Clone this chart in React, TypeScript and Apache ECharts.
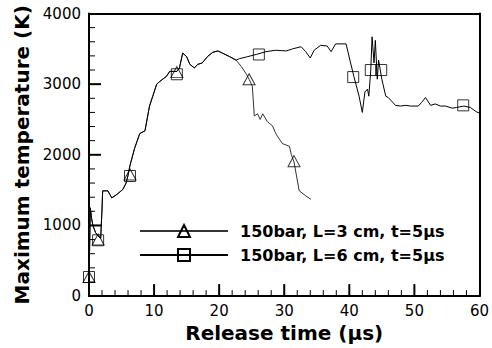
import React, { useEffect, useRef } from "react";
import * as echarts from "echarts";

// Shared rising part of both curves (x in µs, y in K)
const sharedX = [0, 0.1, 0.2, 0.4, 0.6, 1.0, 1.4, 1.8, 2.0, 2.1, 2.9, 3.5, 4.3, 5.2, 5.7, 6.0, 6.3, 7.0, 7.8, 8.6, 9.3, 9.8, 10.4, 10.9, 11.9, 12.4, 13.5, 13.9, 14.4, 15.0, 15.5, 16.2, 16.7, 17.4, 18.2, 19.0, 19.8, 20.5, 21.6, 22.6];
const sharedY = [265, 700, 1250, 1100, 1000, 900, 850, 820, 1230, 1490, 1490, 1390, 1440, 1510, 1600, 1710, 1850, 2090, 2300, 2340, 2690, 2830, 3000, 3040, 3110, 3180, 3180, 3230, 3440, 3390, 3280, 3230, 3280, 3300, 3390, 3450, 3470, 3440, 3390, 3340];

// L = 3 cm tail
const triTailX = [23.4, 24.2, 24.6, 25.1, 25.4, 25.9, 26.3, 26.7, 27.4, 28.2, 28.7, 29.7, 30.8, 31.1, 31.5, 32.3, 33.3, 34.1];
const triTailY = [3250, 3140, 3070, 2970, 2550, 2580, 2500, 2580, 2470, 2410, 2300, 2160, 2120, 2000, 1900, 1490, 1420, 1370];

// L = 6 cm tail
const sqTailX = [23.1, 24.4, 25.7, 27.2, 28.7, 30.3, 31.3, 32.6, 33.3, 34.0, 34.6, 35.6, 36.6, 37.2, 37.9, 39.5, 40.2, 40.7, 41.5, 42.0, 42.4, 42.8, 43.0, 43.3, 43.5, 43.8, 44.0, 44.3, 44.5, 45.0, 45.6, 46.0, 46.5, 47.1, 47.9, 48.6, 49.4, 50.6, 51.1, 51.7, 52.5, 53.2, 54.0, 54.8, 55.8, 56.5, 57.6, 58.6, 59.5, 60];
const sqTailY = [3360, 3390, 3420, 3460, 3480, 3470, 3500, 3530, 3460, 3370, 3480, 3550, 3540, 3460, 3570, 3570, 3300, 3110, 2830, 2600, 2890, 2930, 2830, 3200, 3670, 3300, 3620, 3070, 3340, 3070, 2830, 2810, 2760, 2700, 2690, 2700, 2690, 2690, 2740, 2810, 2700, 2720, 2690, 2690, 2660, 2670, 2690, 2670, 2610, 2590];

// Marker positions
const triMarkX = [0, 1.4, 6.3, 13.5, 24.6, 31.5];
const triMarkY = [270, 800, 1720, 3170, 3070, 1910];
const sqMarkX = [0, 1.4, 6.3, 13.5, 26.1, 40.6, 43.3, 44.9, 57.5];
const sqMarkY = [270, 790, 1700, 3140, 3420, 3100, 3200, 3200, 2700];

// Tick positions
const xMajorTicks = [10, 20, 30, 40, 50];
const xMinorTicks = [2, 4, 6, 8, 12, 14, 16, 18, 22, 24, 26, 28, 32, 34, 36, 38, 42, 44, 46, 48, 52, 54, 56, 58];
const yMajorTicks = [1000, 2000, 3000];
const yMinorTicks = [200, 400, 600, 800, 1200, 1400, 1600, 1800, 2200, 2400, 2600, 2800, 3200, 3400, 3600, 3800];

const seriesNames = ["150bar, L=3 cm, t=5\u03bcs", "150bar, L=6 cm, t=5\u03bcs"];

const zip = (xs: number[], ys: number[]) => xs.map((x, i) => [x, ys[i]]);

const FONT = "DejaVu Sans";

export default function App() {
  const ref = useRef<HTMLDivElement>(null);
  useEffect(() => {
    if (!ref.current) return;
    const chart = echarts.init(ref.current, null, { renderer: "svg" });
    const triData = zip(sharedX.concat(triTailX), sharedY.concat(triTailY));
    const sqData = zip(sharedX.concat(sqTailX), sharedY.concat(sqTailY));
    const markerStyle = { color: "rgba(0,0,0,0)", borderColor: "#000", borderWidth: 1 };
    const axisCommon = {
      axisLine: { show: true, onZero: false, lineStyle: { color: "#000", width: 2 } },
      axisTick: { show: false },
      minorTick: { show: false },
      splitLine: { show: false },
      minorSplitLine: { show: false },
    };
    const borderAxis = {
      type: "value",
      axisLine: { show: true, onZero: false, lineStyle: { color: "#000", width: 2 } },
      axisTick: { show: false },
      axisLabel: { show: false },
      splitLine: { show: false },
    };
    const mainSeries: any[] = [
      {
        name: seriesNames[0],
        type: "line",
        data: triData,
        symbol: "triangle",
        showSymbol: false,
        lineStyle: { color: "#333", width: 1 },
        itemStyle: markerStyle,
        z: 2,
      },
      {
        name: seriesNames[1],
        type: "line",
        data: sqData,
        symbol: "rect",
        showSymbol: false,
        lineStyle: { color: "#000", width: 1 },
        itemStyle: markerStyle,
        z: 3,
      },
      {
        name: "triMarks",
        type: "scatter",
        data: zip(triMarkX, triMarkY),
        symbol: "triangle",
        symbolSize: [12, 11],
        itemStyle: markerStyle,
        clip: false,
        z: 4,
      },
      {
        name: "sqMarks",
        type: "scatter",
        data: zip(sqMarkX, sqMarkY),
        symbol: "rect",
        symbolSize: [11, 11],
        itemStyle: markerStyle,
        clip: false,
        z: 4,
      },
    ];
    chart.setOption({
      animation: false,
      backgroundColor: "#fff",
      grid: { left: 89, right: 11, top: 13.5, bottom: 48 },
      legend: {
        data: seriesNames,
        orient: "vertical",
        left: 134,
        top: 216,
        itemWidth: 88,
        itemHeight: 15,
        itemGap: 4,
        selectedMode: false,
        textStyle: { fontFamily: FONT, fontWeight: "bold", fontSize: 16, color: "#000", lineHeight: 20, padding: [0, 0, 0, 7] },
      },
      xAxis: [
        {
          type: "value",
          position: "bottom",
          min: 0,
          max: 60,
          interval: 10,
          name: "Release time (\u03bcs)",
          nameLocation: "middle",
          nameGap: 22,
          nameTextStyle: { fontFamily: FONT, fontWeight: "bold", fontSize: 20, color: "#000" },
          ...axisCommon,
          axisLabel: { fontFamily: FONT, fontSize: 15, color: "#000", margin: 7, formatter: (v: number) => String(v) },
        },
        { ...borderAxis, position: "top", min: 0, max: 60 },
      ],
      yAxis: [
        {
          type: "value",
          position: "left",
          min: 0,
          max: 4000,
          interval: 1000,
          name: "Maximum temperature (K)",
          nameLocation: "middle",
          nameGap: 40,
          nameTextStyle: { fontFamily: FONT, fontWeight: "bold", fontSize: 20, color: "#000" },
          ...axisCommon,
          axisLabel: { fontFamily: FONT, fontSize: 15, color: "#000", margin: 8, formatter: (v: number) => String(v) },
        },
        { ...borderAxis, position: "right", min: 0, max: 4000 },
      ],
      series: mainSeries,
    });

    // Tick lengths converted from pixels to data units through the chart's scales
    const finder = { xAxisIndex: 0, yAxisIndex: 0 };
    const o = chart.convertToPixel(finder, [0, 0]) as number[];
    const maj = chart.convertFromPixel(finder, [o[0] + 12, o[1] - 12]) as number[];
    const min = chart.convertFromPixel(finder, [o[0] + 6, o[1] - 6]) as number[];
    const tick = (data: number[][], w: number) => ({
      type: "line",
      data,
      symbol: "none",
      silent: true,
      clip: false,
      z: 6,
      lineStyle: { color: "#000", width: w, cap: "butt" },
    });
    const tickSeries = [
      ...xMajorTicks.map((v) => tick([[v, 0], [v, maj[1]]], 2)),
      ...xMinorTicks.map((v) => tick([[v, 0], [v, min[1]]], 1)),
      ...yMajorTicks.map((v) => tick([[0, v], [maj[0], v]], 2)),
      ...yMinorTicks.map((v) => tick([[0, v], [min[0], v]], 1)),
    ];
    chart.setOption({ series: [...mainSeries, ...tickSeries] });

    return () => chart.dispose();
  }, []);
  return <div ref={ref} style={{ position: "fixed", left: 0, top: 0, width: 492, height: 348 }} />;
}
